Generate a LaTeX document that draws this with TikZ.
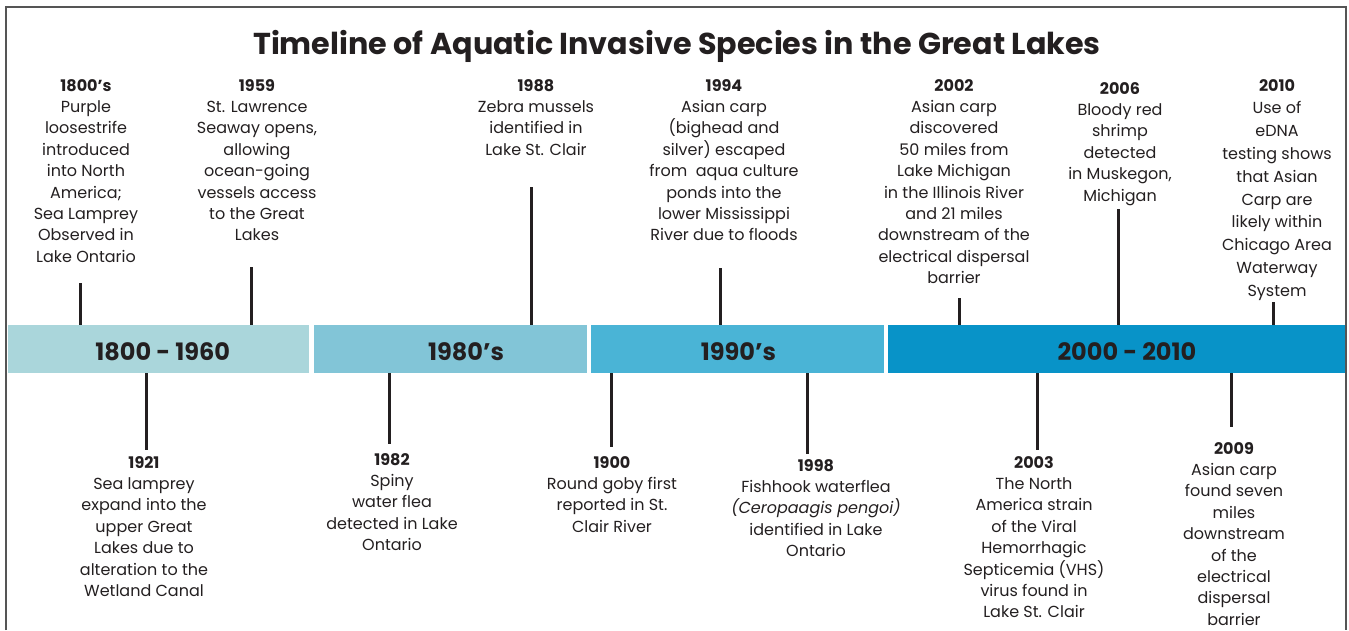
\documentclass[tikz,border=0pt]{standalone}
\usepackage{fontspec}
\setmainfont{Poppins}
\usetikzlibrary{positioning}
\definecolor{ink}{HTML}{231F20}
\definecolor{framegray}{HTML}{555555}
\definecolor{eraA}{HTML}{AAD6DB}
\definecolor{eraB}{HTML}{82C5D7}
\definecolor{eraC}{HTML}{4AB4D6}
\definecolor{eraD}{HTML}{0893C8}
\tikzset{
  era/.style={rectangle, inner sep=0pt, minimum height=48pt},
  eralbl/.style={inner sep=0pt, text=ink,
                 font=\fontsize{24}{28}\selectfont\bfseries},
  event/.style={inner sep=0pt, align=center, text=ink,
                font=\fontsize{16}{21.4}\selectfont},
  tick/.style={draw=ink, line width=3pt},
  headline/.style={inner sep=0pt, text=ink,
                   font=\fontsize{30.2}{36}\selectfont\bfseries}
}

\begin{document}
\begin{tikzpicture}[x=1pt, y=-1pt, node distance=4pt]
  \useasboundingbox (0,0) rectangle (1349,630);

  % frame, open at the bottom
  \draw[framegray, line width=1.2pt] (6,630) |- (1346,7) -- (1346,630);

  % title
  \node[headline, anchor=base] (title) at (677,54)
    {Timeline of Aquatic Invasive Species in the Great Lakes};

  % era bands
  \node[era, fill=eraA, minimum width=301pt, anchor=north west] (b1) at (8,325) {};
  \node[era, fill=eraB, minimum width=273pt, right=of b1] (b2) {};
  \node[era, fill=eraC, minimum width=293pt, right=of b2] (b3) {};
  \node[era, fill=eraD, minimum width=457pt, right=of b3] (b4) {};

  \node[eralbl] (l1) at ([xshift=4pt,yshift=-2pt]b1.center) {1800 - 1960};
  \node[eralbl] (l2) at ([xshift=16pt,yshift=-2pt]b2.center) {1980’s};
  \node[eralbl] (l3) at ([xshift=1pt,yshift=-2pt]b3.center) {1990’s};
  \node[eralbl] (l4) at ([xshift=10pt,yshift=-2pt]b4.center) {2000 - 2010};

  % events above the bands
  \node[event, anchor=north] (e1800) at (86,79)
    {\textbf{1800’s}\\Purple\\loosestrife\\introduced\\into North\\America;\\Sea Lamprey\\Observed in\\Lake Ontario};
  \node[event, anchor=north] (e1959) at (257,79)
    {\textbf{1959}\\St. Lawrence\\Seaway opens,\\allowing\\ocean-going\\vessels access\\to the Great\\Lakes};
  \node[event, anchor=north] (e1988) at (536,79)
    {\textbf{1988}\\Zebra mussels\\identified in\\Lake St. Clair};
  \node[event, anchor=north] (e1994) at (724,79)
    {\textbf{1994}\\Asian carp\\(bighead and\\silver) escaped\\from~ aqua culture\\ponds into the\\lower Mississippi\\River due to floods};
  \node[event, anchor=north] (e2002) at (954,79)
    {\textbf{2002}\\Asian carp\\discovered\\50 miles from\\Lake Michigan\\in the Illinois River\\and 21 miles\\downstream of the\\electrical dispersal\\barrier};
  \node[event, anchor=north] (e2006) at (1120,82)
    {\textbf{2006}\\Bloody red\\shrimp\\detected\\in Muskegon,\\Michigan};
  \node[event, anchor=north, font=\fontsize{16}{22.8}\selectfont] (e2010) at (1277,79)
    {\textbf{2010}\\Use of\\eDNA\\testing shows\\that Asian\\Carp are\\likely within\\Chicago Area\\Waterway\\System};

  % events below the bands
  \node[event, anchor=north] (e1921) at (144,456)
    {\textbf{1921}\\Sea lamprey\\expand into the\\upper Great\\Lakes due to\\alteration to the\\Wetland Canal};
  \node[event, anchor=north] (e1982) at (392,453)
    {\textbf{1982}\\Spiny\\water flea\\detected in Lake\\Ontario};
  \node[event, anchor=north] (e1900) at (612,456)
    {\textbf{1900}\\Round goby first\\reported in St.\\Clair River};
  \node[event, anchor=north] (e1998) at (816,459)
    {\textbf{1998}\\Fishhook waterflea\\\textit{(Ceropaagis pengoi)}\\identified in Lake\\Ontario};
  \node[event, anchor=north] (e2003) at (1034,456)
    {\textbf{2003}\\The North\\America strain\\of the Viral\\Hemorrhagic\\Septicemia (VHS)\\virus found in\\Lake St. Clair};
  \node[event, anchor=north] (e2009) at (1234,442)
    {\textbf{2009}\\Asian carp\\found seven\\miles\\downstream\\of the\\electrical\\dispersal\\barrier};

  % tick ends
  \coordinate (k1800) at (80,283);
  \coordinate (k1959) at (251,267);
  \coordinate (k1988) at (531,187);
  \coordinate (k1994) at (720,268);
  \coordinate (k2002) at (959,298);
  \coordinate (k2006) at (1118,209);
  \coordinate (k2010) at (1273,302);
  \coordinate (k1921) at (146,450);
  \coordinate (k1982) at (389,444);
  \coordinate (k1900) at (611,447);
  \coordinate (k1998) at (807,454);
  \coordinate (k2003) at (1037,450);
  \coordinate (k2009) at (1231,427);

  \foreach \k/\b in {k1800/b1,k1959/b1,k1988/b2,k1994/b3,k2002/b4,k2006/b4,k2010/b4}{
    \draw[tick] (\k) -- (\k |- \b.north);
  }
  \foreach \k/\b in {k1921/b1,k1982/b2,k1900/b3,k1998/b3,k2003/b4,k2009/b4}{
    \draw[tick] (\k |- \b.south) -- (\k);
  }
\end{tikzpicture}
\end{document}
